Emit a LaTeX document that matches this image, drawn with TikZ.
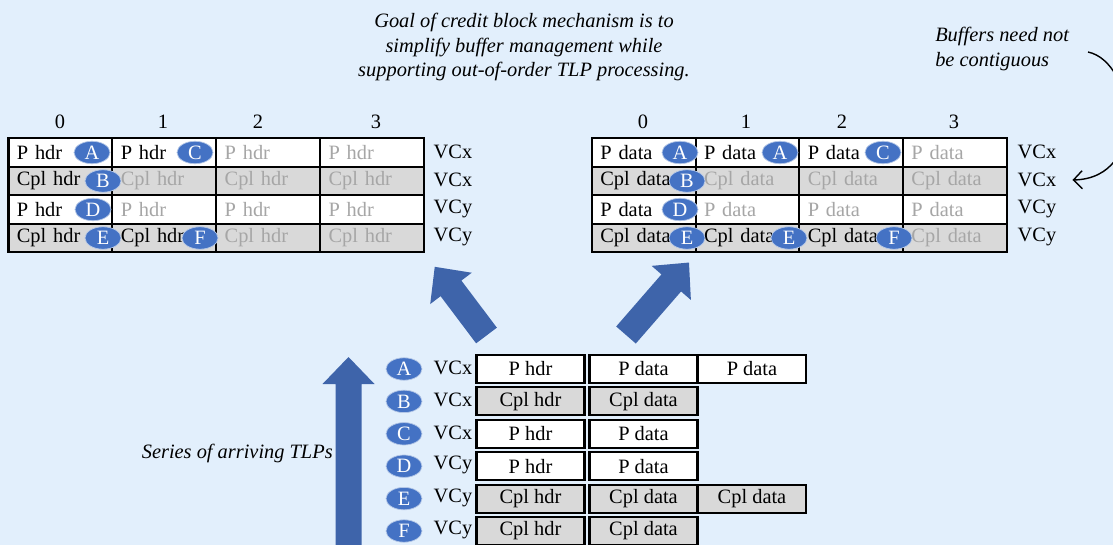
\documentclass[tikz,border=0pt]{standalone}
\usepackage{fontspec}
\setmainfont{Liberation Serif}
\usepackage{tikz}
\usetikzlibrary{positioning,arrows.meta,shapes.geometric}
\definecolor{bgblue}{HTML}{E2EFFC}
\definecolor{tagblue}{HTML}{4472C4}
\definecolor{fatblue}{HTML}{3E64AA}
\definecolor{cplgray}{HTML}{D9D9D9}
\definecolor{idle}{HTML}{A6A6A6}
\tikzset{
  cell/.style    = {rectangle, draw=black, fill=#1, line width=1.5pt, minimum height=0.71cm,
                    text width=2.18cm, inner xsep=0.21cm, inner ysep=0pt, align=left},
  pkt/.style     = {rectangle, draw=black, fill=#1, line width=1.5pt, minimum width=2.7cm,
                    minimum height=0.7cm, inner sep=0pt},
  tag/.style     = {ellipse, fill=tagblue, draw=white!60!tagblue, line width=0.5pt, text=white,
                    minimum width=0.9cm, minimum height=0.56cm, inner sep=0pt},
  note/.style    = {font=\fontsize{14.5}{17.5}\selectfont\itshape, inner sep=0pt},
  pics/fatarrow/.style = {code={
    \fill[fatblue] (0,-13) -- ({#1-27},-13) -- ({#1-27},-26) -- (#1,0)
                   -- ({#1-27},26) -- ({#1-27},13) -- (0,13) -- cycle;
  }},
}

\begin{document}
\begin{tikzpicture}[x=0.025cm, y=-0.025cm, font=\fontsize{14.5}{17.5}\selectfont]
  \useasboundingbox (0,0) rectangle (1113,545);
  \fill[bgblue] (0,0) rectangle (1113,545);
  \clip (0,0) rectangle (1113,545);

  % header buffers
  \foreach \c/\x in {0/60,1/163,2/258,3/376}
    \node (hcol-\c) at (\x,122) {\c};
  \foreach \r/\txt/\tone/\n in {1/P hdr/white/2, 2/Cpl hdr/cplgray/1, 3/P hdr/white/1, 4/Cpl hdr/cplgray/2} {
    \foreach \c in {0,...,3}
      \node[cell=\tone] (hdr-\r-\c) at ({60.5+103.9*\c},{124+28.5*\r}) {\ifnum\c<\n\else\color{idle}\fi\txt};
  }
  \foreach \r/\vc in {1/VCx,2/VCx,3/VCy,4/VCy}
    \node (vcL-\r) at (453,{123+28.5*\r}) {\vc};
  \node[tag] (hA) at (92,152.5) {A};
  \node[tag] (hC) at (195,152.5) {C};
  \node[tag] (hB) at (103,181) {B};
  \node[tag] (hD) at (93,209.5) {D};
  \node[tag] (hE) at (103,238) {E};
  \node[tag] (hF) at (200,238) {F};

  % data buffers
  \foreach \c/\x in {0/643,1/746,2/842,3/954}
    \node (dcol-\c) at (\x,122) {\c};
  \foreach \r/\txt/\tone/\n in {1/P data/white/3, 2/Cpl data/cplgray/1, 3/P data/white/1, 4/Cpl data/cplgray/3} {
    \foreach \c in {0,...,3}
      \node[cell=\tone] (dat-\r-\c) at ({644+103.7*\c},{124+28.5*\r}) {\ifnum\c<\n\else\color{idle}\fi\txt};
  }
  \foreach \r/\vc in {1/VCx,2/VCx,3/VCy,4/VCy}
    \node (vcR-\r) at (1037,{123+28.5*\r}) {\vc};
  \node[tag] (dA1) at (680,152.5) {A};
  \node[tag] (dA2) at (780,152.5) {A};
  \node[tag] (dC) at (883,152.5) {C};
  \node[tag] (dB) at (687,181) {B};
  \node[tag] (dD) at (680,209.5) {D};
  \node[tag] (dE1) at (687,238) {E};
  \node[tag] (dE2) at (789,238) {E};
  \node[tag] (dF) at (894,238) {F};

  % arriving TLPs
  \foreach \i/\tg/\vc/\a/\b/\tone in {0/A/VCx/P hdr/P data/white, 1/B/VCx/Cpl hdr/Cpl data/cplgray,
                                      2/C/VCx/P hdr/P data/white, 3/D/VCy/P hdr/P data/white,
                                      4/E/VCy/Cpl hdr/Cpl data/cplgray, 5/F/VCy/Cpl hdr/Cpl data/cplgray} {
    \node[tag] (tag-\tg) at (404,{369+32.4*\i}) {\tg};
    \node (vc-\tg) at (453,{368+32.4*\i}) {\vc};
    \node[pkt=\tone] (pk-\tg-1) at (530.5,{369+32.4*\i}) {\a};
    \node[pkt=\tone] (pk-\tg-2) at (643.5,{369+32.4*\i}) {\b};
  }
  \node[pkt=white] (pk-A-3) at (752,369) {P data};
  \node[pkt=cplgray] (pk-E-3) at (752,498.6) {Cpl data};

  % big arrows
  \pic[rotate=90] (upT) at (348.5,560) {fatarrow=203};
  \pic[rotate=127] (upL) at (486.5,335.5) {fatarrow=86};
  \pic[rotate=49] (upR) at (626,335) {fatarrow=96};

  % notes
  \node[note, align=center] (goal) at (524,47)
    {Goal of credit block mechanism is to\\simplify buffer management while\\supporting out-of-order TLP processing.};
  \node[note, align=left, anchor=west] (bufnote) at (935,49) {Buffers need not\\be contiguous};
  \node[note, anchor=east] (series) at (333,453) {Series of arriving TLPs};
  \coordinate (bufsrc) at (1088,52);
  \draw[line width=1pt, -{Straight Barb[length=2.2mm, width=4.5mm]}]
    (bufsrc) .. controls (1135,62) and (1150,178) .. ([xshift=8pt]vcR-2.east);
\end{tikzpicture}
\end{document}
